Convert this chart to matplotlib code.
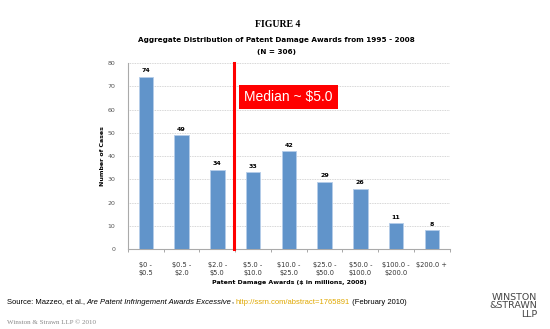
import matplotlib.pyplot as plt
import numpy as np

categories = ["$0 -\n$0.5", "$0.5 -\n$2.0", "$2.0 -\n$5.0", "$5.0 -\n$10.0", "$10.0 -\n$25.0",
              "$25.0 -\n$50.0", "$50.0 -\n$100.0", "$100.0 -\n$200.0", "$200.0 +"]
cases = [74, 49, 34, 33, 42, 29, 26, 11, 8]
median_pos = 2.47
median_label = "Median ~ $5.0"

fig = plt.figure(figsize=(5.5, 3.29), dpi=100)
ax = fig.add_axes([0.2327, 0.243, 0.585, 0.5655])

x = np.arange(len(cases))
ax.bar(x, cases, width=0.4, color='#6194CA', edgecolor='#B5CDE9', linewidth=0.6, zorder=3)
for xi, v in zip(x, cases):
    ax.text(xi, v + 1.5, str(v), ha='center', va='bottom', fontsize=4.5, fontweight='bold')

ax.set_xlim(-0.5, 8.5)
ax.set_ylim(0, 80)
ax.set_yticks(range(0, 81, 10))
ax.yaxis.grid(True, linestyle=(0, (1, 1)), color='#c8c8c8', linewidth=0.6, zorder=0)
ax.tick_params(axis='y', labelsize=4.5, length=0, colors='#555555', pad=9)
ax.set_xticks(x)
ax.set_xticklabels(categories, fontsize=4.8, color='#333333', linespacing=1.5)
ax.set_xticks(np.arange(-0.5, 9, 1), minor=True)
ax.tick_params(axis='x', which='major', length=0, pad=9)
ax.tick_params(axis='x', which='minor', length=2.5, color='#999999')
for s in ['top', 'right']:
    ax.spines[s].set_visible(False)
for s in ['left', 'bottom']:
    ax.spines[s].set_color('#aaaaaa')
    ax.spines[s].set_linewidth(0.8)

ax.set_ylabel("Number of Cases", fontsize=4.5, fontweight='bold', labelpad=2)
ax.set_xlabel("Patent Damage Awards ($ in millions, 2008)", fontsize=4.5, fontweight='bold', labelpad=3)

ax.plot([median_pos, median_pos], [0, 80], color='#ff0000', linewidth=2.2, zorder=4, clip_on=False)
ax.text(median_pos + 0.28, 65.4, median_label, color='white', fontsize=10, va='center', ha='left',
        family='Liberation Sans',
        bbox=dict(boxstyle='square,pad=0.35', facecolor='#ff0000', edgecolor='none'), zorder=5)

fig.text(0.505, 0.927, "FIGURE 4", ha='center', va='center', fontsize=7, fontweight='bold',
         family='Liberation Serif')
fig.text(0.502, 0.878, "Aggregate Distribution of Patent Damage Awards from 1995 - 2008",
         ha='center', va='center', fontsize=5.2, fontweight='bold')
fig.text(0.502, 0.842, "(N = 306)", ha='center', va='center', fontsize=5.2, fontweight='bold')

# source line, pieces chained one after another
y_src = 1 - 302 / 329
pieces = [("Source: Mazzeo, et al., ", 'normal', 'black'),
          ("Are Patent Infringement Awards Excessive", 'italic', 'black'),
          (", ", 'normal', 'black'),
          ("http://ssrn.com/abstract=1765891", 'normal', '#e0a800'),
          (" (February 2010)", 'normal', 'black')]
renderer = fig.canvas.get_renderer()
xpos = 0.012
for txt, st, col in pieces:
    t = fig.text(xpos, y_src, txt, fontsize=5.5, family='Liberation Sans', style=st, color=col, va='center')
    bb = t.get_window_extent(renderer=renderer)
    xpos += bb.width / fig.bbox.width

fig.text(0.012, 1 - 322 / 329, "Winston & Strawn LLP \u00a9 2010", fontsize=5, family='Liberation Serif',
         color='#888888', va='center')
fig.text(0.977, 1 - 306 / 329, "WINSTON\n&STRAWN\nLLP", fontsize=6.8, ha='right', va='center',
         color='#444444', linespacing=0.95)

fig.savefig("out.png", dpi=100)
